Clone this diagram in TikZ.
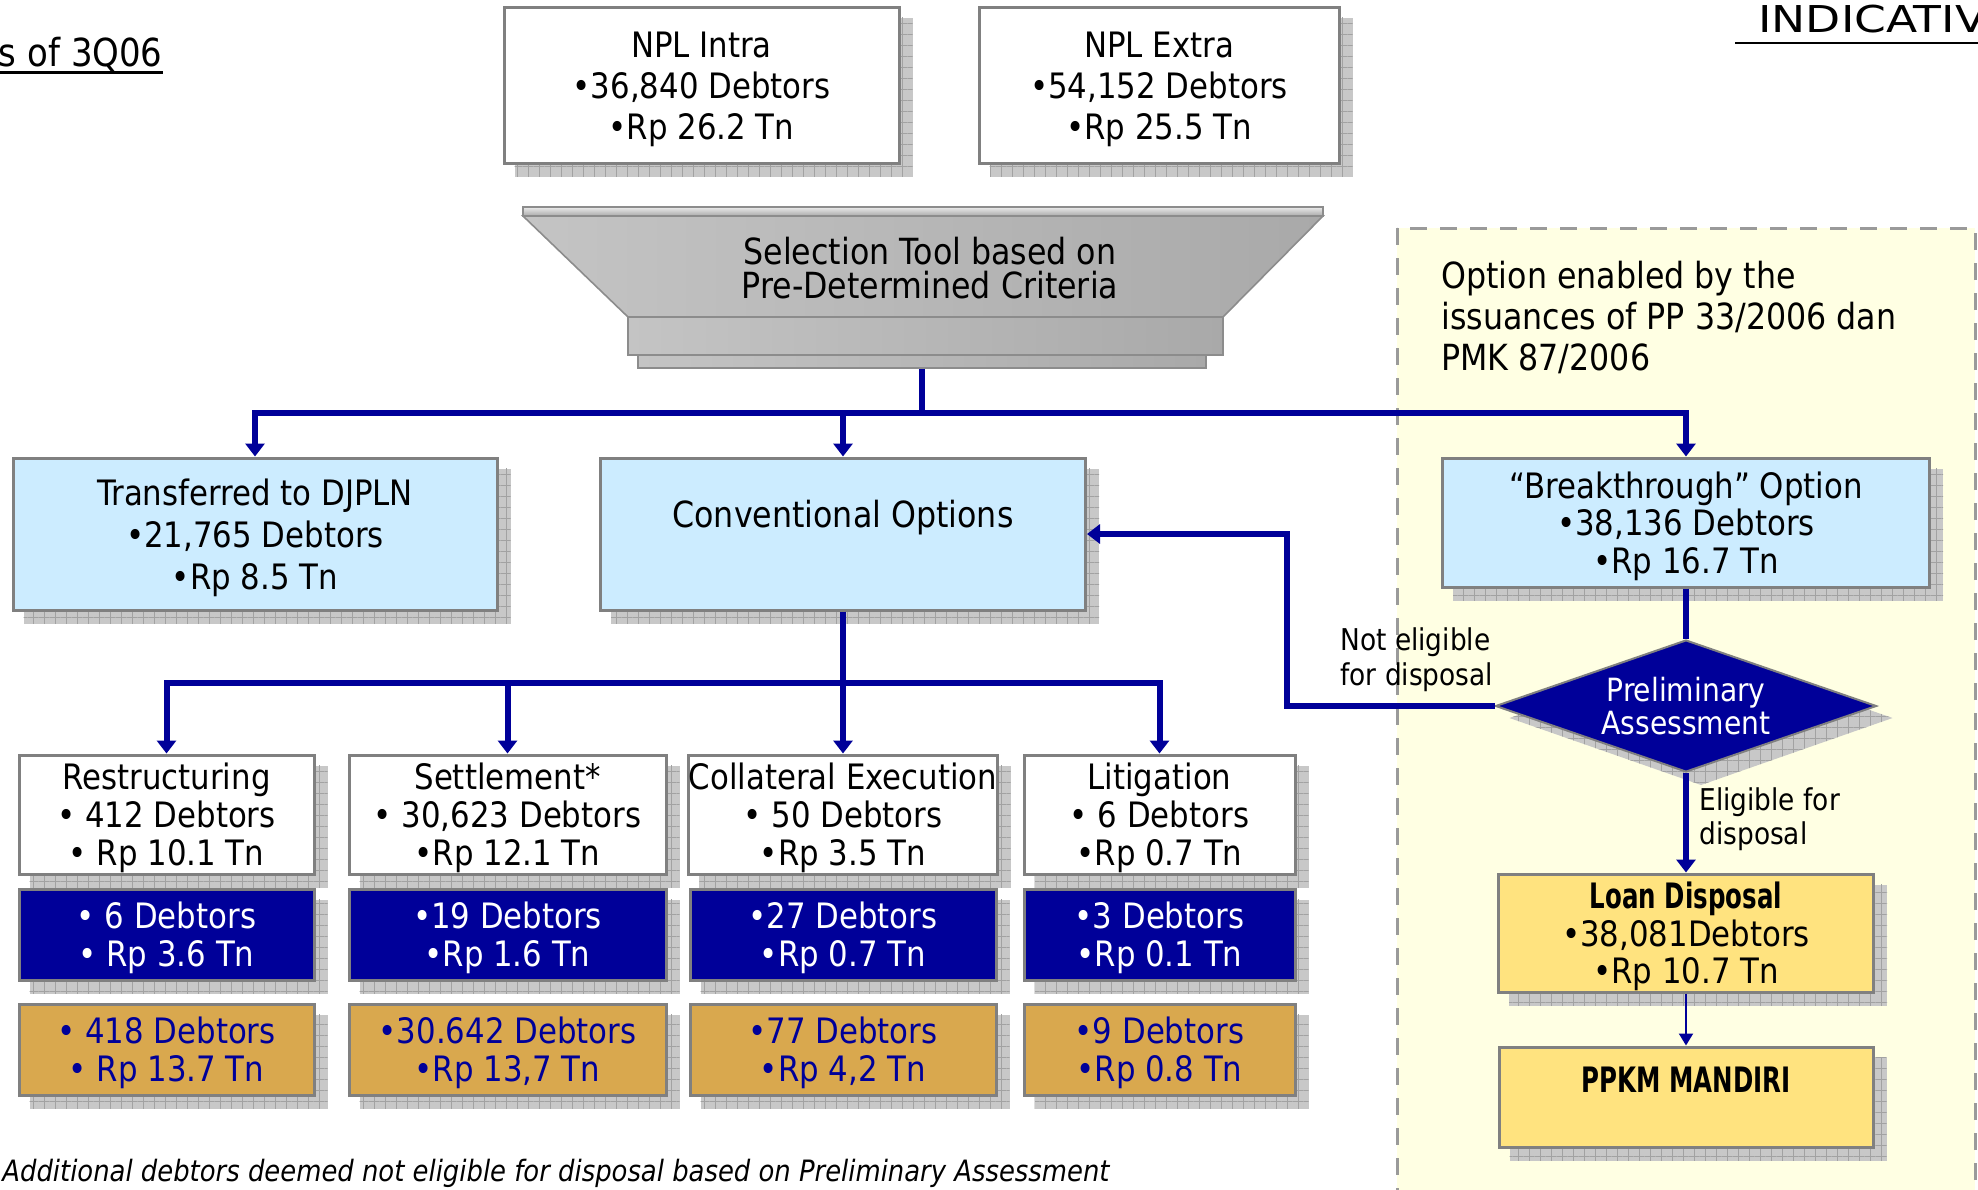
\documentclass[tikz,border=0pt]{standalone}
\usepackage{fontspec}
\setmainfont{DejaVu Sans}[FakeStretch=0.88]
\newfontfamily\narrowbold{DejaVu Sans}[FakeStretch=0.7]
\usetikzlibrary{arrows.meta,shapes.geometric,patterns.meta,calc}

\definecolor{navy}{HTML}{000099}
\definecolor{skyfill}{HTML}{CCECFF}
\definecolor{goldfill}{HTML}{D9A84E}
\definecolor{loanfill}{HTML}{FFE37F}
\definecolor{zonefill}{HTML}{FFFFE3}
\definecolor{zoneedge}{HTML}{9A9A9A}
\definecolor{boxedge}{HTML}{808080}
\definecolor{shadowbase}{HTML}{C8C8C8}
\definecolor{shadowline}{HTML}{A2A2A2}
\definecolor{funnelside}{HTML}{C4C4C4}
\definecolor{funnellight}{HTML}{EBEBEB}
\definecolor{funneldark}{HTML}{A9A9A9}
\definecolor{funneledge}{HTML}{8C8C8C}

\pgfdeclarelayer{zone}
\pgfdeclarelayer{shade}
\pgfsetlayers{zone,shade,main}

% taller first line, so that the text block sits a little lower in its box
\newcommand\boxstrut{\rule{0pt}{17pt}}

\tikzset{
  box/.style={draw=boxedge, line width=1.5pt, inner sep=0pt, align=center,
    font=\fontsize{17.5}{19}\selectfont},
  whitebox/.style={box, fill=white},
  skybox/.style={box, fill=skyfill},
  navybox/.style={box, fill=navy, text=white},
  goldbox/.style={box, fill=goldfill, text=navy},
  loanbox/.style={box, fill=loanfill},
  shadowfill/.style={preaction={fill=shadowbase},
    pattern={Hatch[angle=0,distance=5.5pt,line width=0.5pt]},
    pattern color=shadowline},
  zonebox/.style={fill=zonefill, draw=zoneedge, line width=1.5pt,
    dash pattern=on 8.5pt off 6.5pt},
  conn/.style={draw=navy, line width=3pt},
  arrowed/.style={-{Triangle[width=9.5pt,length=6.5pt]}},
  thinconn/.style={draw=navy, line width=1pt, -{Triangle[width=7pt,length=6pt]}},
  note/.style={inner sep=0pt, align=left, font=\fontsize{15}{17.5}\selectfont},
  funnelpart/.style={draw=funneledge, line width=0.8pt,
    left color=funnelside, middle color=funnellight, right color=funneldark},
}

% drop shadow of a rectangular node, offset to the lower right
\newcommand\castshadow[1]{%
  \begin{pgfonlayer}{shade}
    \path[shadowfill] ([shift={(12,12)}]#1.north west) rectangle ([shift={(12,12)}]#1.south east);
  \end{pgfonlayer}}

\begin{document}
\begin{tikzpicture}[x=0.5pt,y=-0.5pt]
\useasboundingbox (0,0) rectangle (1978,1190);
\clip (0,0) rectangle (1978,1190);

% background and the dashed zone of the new option
\begin{pgfonlayer}{zone}
  \fill[white] (0,0) rectangle (1978,1190);
  \draw[zonebox] (1397,228) rectangle (1975,1240);
\end{pgfonlayer}

% headings
\node[anchor=base east, inner sep=0pt, font=\fontsize{19.3}{21}\selectfont] (period) at (163,66) {s of 3Q06};
\draw[line width=1.5pt] ([yshift=-3pt]period.base west) -- ([yshift=-3pt]period.base east);
\node[anchor=base west, inner sep=0pt, font=\fontsize{18.5}{20}\selectfont] (stamp) at (1758,32) {\scalebox{1.4}[1]{INDICATIV}};
\draw[line width=1.2pt] ([xshift=-11.5pt,yshift=-5.5pt]stamp.base west) -- ++(260,0);

% NPL sources
\node[whitebox, minimum width=197.5pt, minimum height=78pt, font=\fontsize{17.5}{20.5}\selectfont] (nplintra) at (701.5,85)
  {\boxstrut NPL Intra\\•36,840 Debtors\\•Rp 26.2 Tn};
\node[whitebox, minimum width=180pt, minimum height=78pt, font=\fontsize{17.5}{20.5}\selectfont] (nplextra) at (1159,85)
  {\boxstrut NPL Extra\\•54,152 Debtors\\•Rp 25.5 Tn};
\castshadow{nplintra}
\castshadow{nplextra}

% selection funnel
\path[funnelpart] (523,216) -- (1323,216) -- (1223,317) -- (628,317) -- cycle;
\path[draw=funneledge, line width=0.8pt, top color=funnellight, bottom color=funneldark] (523,207) rectangle (1323,216);
\path[funnelpart] (628,317) rectangle (1223,355);
\node[funnelpart, minimum width=284pt, minimum height=6.5pt, inner sep=0pt] (funnelfoot) at (922,361.5) {};
\node[inner sep=0pt, align=center, font=\fontsize{18}{17}\selectfont] (selector) at (930,268)
  {Selection Tool based on\\Pre-Determined Criteria};

% first level
\node[skybox, minimum width=242pt, minimum height=76pt, font=\fontsize{17.5}{21}\selectfont] (trans) at (255,534)
  {\boxstrut Transferred to DJPLN\\•21,765 Debtors\\•Rp 8.5 Tn};
\node[skybox, minimum width=242.5pt, minimum height=76pt] (conv) at (843,534) {};
\node[inner sep=0pt, font=\fontsize{18}{19}\selectfont] (convtext) at (843,518) {Conventional Options};
\node[skybox, minimum width=243.5pt, minimum height=64.5pt, font=\fontsize{17.5}{18.75}\selectfont] (brk) at (1686,522.5)
  {\boxstrut “Breakthrough” Option\\•38,136 Debtors\\•Rp 16.7 Tn};
\castshadow{trans}
\castshadow{conv}
\castshadow{brk}

% conventional options
\node[whitebox, minimum width=147.5pt, minimum height=59.5pt] (restr) at (166.5,814.5)
  {\boxstrut Restructuring\\• 412 Debtors\\• Rp 10.1 Tn};
\node[whitebox, minimum width=158.5pt, minimum height=59.5pt] (settle) at (507.5,814.5)
  {\boxstrut Settlement*\\• 30,623 Debtors\\•Rp 12.1 Tn};
\node[whitebox, minimum width=153pt, minimum height=59.5pt] (collat) at (843,814.5)
  {\boxstrut Collateral Execution\\• 50 Debtors\\•Rp 3.5 Tn};
\node[whitebox, minimum width=135.5pt, minimum height=59.5pt] (litig) at (1159.5,814.5)
  {\boxstrut Litigation\\• 6 Debtors\\•Rp 0.7 Tn};

\node[navybox, minimum width=147.5pt, minimum height=45.5pt] (restradd) at (166.5,934.5)
  {\boxstrut • 6 Debtors\\• Rp 3.6 Tn};
\node[navybox, minimum width=158.5pt, minimum height=45.5pt] (settleadd) at (507.5,934.5)
  {\boxstrut •19 Debtors\\•Rp 1.6 Tn};
\node[navybox, minimum width=153pt, minimum height=45.5pt] (collatadd) at (843,934.5)
  {\boxstrut •27 Debtors\\•Rp 0.7 Tn};
\node[navybox, minimum width=135.5pt, minimum height=45.5pt] (litigadd) at (1159.5,934.5)
  {\boxstrut •3 Debtors\\•Rp 0.1 Tn};

\node[goldbox, minimum width=147.5pt, minimum height=45.5pt] (restrsum) at (166.5,1049.5)
  {\boxstrut • 418 Debtors\\• Rp 13.7 Tn};
\node[goldbox, minimum width=158.5pt, minimum height=45.5pt] (settlesum) at (507.5,1049.5)
  {\boxstrut •30.642 Debtors\\•Rp 13,7 Tn};
\node[goldbox, minimum width=153pt, minimum height=45.5pt] (collatsum) at (843,1049.5)
  {\boxstrut •77 Debtors\\•Rp 4,2 Tn};
\node[goldbox, minimum width=135.5pt, minimum height=45.5pt] (litigsum) at (1159.5,1049.5)
  {\boxstrut •9 Debtors\\•Rp 0.8 Tn};

\foreach \n in {restr,settle,collat,litig,restradd,settleadd,collatadd,litigadd,restrsum,settlesum,collatsum,litigsum}
  {\castshadow{\n}}

% breakthrough path
\node[shape=diamond, fill=navy, draw=boxedge, line width=1pt, minimum width=190.5pt, minimum height=66pt,
  aspect=2.9, inner sep=0pt, text=white, align=center, font=\fontsize{16}{16.5}\selectfont] (prelim) at (1686,706)
  {Preliminary\\Assessment};
\begin{pgfonlayer}{shade}
  \path[shadowfill] ([shift={(15,12)}]prelim.north) -- ([shift={(15,12)}]prelim.east)
    -- ([shift={(15,12)}]prelim.south) -- ([shift={(15,12)}]prelim.west) -- cycle;
\end{pgfonlayer}

\node[loanbox, minimum width=187.5pt, minimum height=59pt, font=\fontsize{17.5}{18.75}\selectfont] (loan) at (1686,933)
  {\boxstrut{\narrowbold\bfseries Loan Disposal}\\•38,081Debtors\\•Rp 10.7 Tn};
\node[loanbox, minimum width=187pt, minimum height=50pt] (ppkm) at (1686,1097) {};
\node[inner sep=0pt, font=\fontsize{17.5}{19}\selectfont\narrowbold\bfseries] (ppkmtext) at (1686,1080) {PPKM MANDIRI};
\castshadow{loan}
\castshadow{ppkm}

% notes
\node[note, anchor=west, font=\fontsize{18}{20.5}\selectfont] (legal) at (1441,317)
  {Option enabled by the\\issuances of PP 33/2006 dan\\PMK 87/2006};
\node[note, anchor=west] (noteno) at (1340,659.5) {Not eligible\\for disposal};
\node[note, anchor=west, font=\fontsize{15}{17}\selectfont] (noteyes) at (1699,819) {Eligible for\\disposal};
\node[anchor=base west, inner sep=0pt, font=\fontsize{14.7}{16}\selectfont\itshape] (footer) at (2,1181)
  {Additional debtors deemed not eligible for disposal based on Preliminary Assessment};

% connectors
\coordinate (hub) at (922,413);
\draw[conn] (funnelfoot.south) -- (hub);
\draw[conn,arrowed] (hub) -| (trans.north);
\draw[conn,arrowed] (hub) -| (conv.north);
\draw[conn,arrowed] (hub) -| (brk.north);

\coordinate (hub2) at (843,683);
\draw[conn] (conv.south) -- (hub2);
\draw[conn,arrowed] (hub2) -| (restr.north);
\draw[conn,arrowed] (hub2) -| (settle.north);
\draw[conn,arrowed] (hub2) -- (collat.north);
\draw[conn,arrowed] (hub2) -| (litig.north);

\draw[conn] (brk.south) -- (prelim.north);
\draw[conn,arrowed] (prelim.south) -- (loan.north);
\draw[thinconn] (loan.south) -- (ppkm.north);
\coordinate (turn) at (1287,534);
\draw[conn,arrowed] (prelim.west) -| (turn) -- (conv.east);
\end{tikzpicture}
\end{document}
